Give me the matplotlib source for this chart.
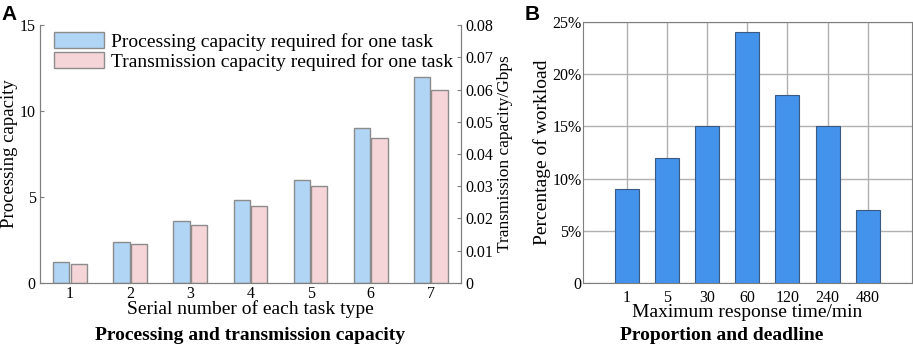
import matplotlib.pyplot as plt
from matplotlib.ticker import FuncFormatter
import numpy as np

plt.rcParams['font.family'] = ['Liberation Serif', 'DejaVu Serif']

# panel A data
task_types = [1, 2, 3, 4, 5, 6, 7]
processing = [1.2, 2.4, 3.6, 4.8, 6.0, 9.0, 12.0]
transmission = [0.006, 0.012, 0.018, 0.024, 0.030, 0.045, 0.060]

# panel B data
resp_labels = ['1', '5', '30', '60', '120', '240', '480']
workload = [9, 12, 15, 24, 18, 15, 7]

grey = '#7f7f7f'

fig = plt.figure(figsize=(9.13, 3.48), dpi=100)

# ---- panel A
ax = fig.add_axes([0.0438, 0.187, 0.461, 0.741])
ax2 = ax.twinx()
x = np.array(task_types)
w = 0.27
b1 = ax.bar(x - 0.145, processing, w, color='#b0d5f5', edgecolor='#8c8c8c', linewidth=1,
            label='Processing capacity required for one task')
b2 = ax2.bar(x + 0.145, transmission, w, color='#f5d5d7', edgecolor='#8c8c8c', linewidth=1,
             label='Transmission capacity required for one task')
ax.set_xlim(0.5, 7.5)
ax.set_ylim(0, 15)
ax2.set_ylim(0, 0.08)
ax.set_xticks(task_types)
ax.set_yticks([0, 5, 10, 15])
ax2.set_yticks(np.arange(0, 0.081, 0.01))
ax2.yaxis.set_major_formatter(FuncFormatter(lambda v, p: '0' if v == 0 else '%.2f' % v))
for a in (ax, ax2):
    a.spines['top'].set_visible(False)
    for s in a.spines.values():
        s.set_color(grey)
    a.tick_params(axis='y', direction='in', colors=grey, labelcolor='black',
                  labelsize=11.5, length=3, pad=3)
ax.tick_params(axis='x', length=0, labelsize=11.5, pad=2)
ax.set_ylabel('Processing capacity', fontsize=13.5, labelpad=1)
ax2.set_ylabel('Transmission capacity/Gbps', fontsize=12.5, labelpad=3)
ax.set_xlabel('Serial number of each task type', fontsize=14, labelpad=-1)
ax.legend([b1, b2], [b1.get_label(), b2.get_label()], loc='upper left',
          bbox_to_anchor=(0.005, 1.02), frameon=False, fontsize=14,
          handlelength=2.6, handleheight=0.95, handletextpad=0.35, labelspacing=0.05,
          borderaxespad=0.2)
fig.text(0.274, 0.037, 'Processing and transmission capacity', ha='center', va='center',
         fontsize=14, fontweight='bold')

# ---- panel B
bx = fig.add_axes([0.6386, 0.187, 0.36, 0.75])
pos = np.arange(1, len(workload) + 1)
bx.bar(pos, workload, 0.6, color='#4392eb', edgecolor='#3a5a80', linewidth=0.8, zorder=3)
bx.set_xlim(-0.1, 8.1)
bx.set_ylim(0, 25)
bx.set_xticks(pos)
bx.set_xticklabels(resp_labels)
bx.set_yticks([0, 5, 10, 15, 20, 25])
bx.yaxis.set_major_formatter(FuncFormatter(lambda v, p: '0' if v == 0 else '%d%%' % v))
bx.grid(True, color='#b0b0b0', linewidth=1, zorder=0)
for s in bx.spines.values():
    s.set_color(grey)
bx.tick_params(colors=grey, labelcolor='black', labelsize=11.5, length=0)
bx.tick_params(axis='y', pad=1)
bx.tick_params(axis='x', pad=5)
bx.set_ylabel('Percentage of workload', fontsize=14, labelpad=1)
bx.set_xlabel('Maximum response time/min', fontsize=14, labelpad=-1)
fig.text(0.79, 0.037, 'Proportion and deadline', ha='center', va='center',
         fontsize=14, fontweight='bold')

fig.text(0.002, 0.985, 'A', ha='left', va='top', fontsize=15, fontweight='bold',
         family='Liberation Sans')
fig.text(0.575, 0.985, 'B', ha='left', va='top', fontsize=15, fontweight='bold',
         family='Liberation Sans')

fig.savefig('out.png', dpi=100)
